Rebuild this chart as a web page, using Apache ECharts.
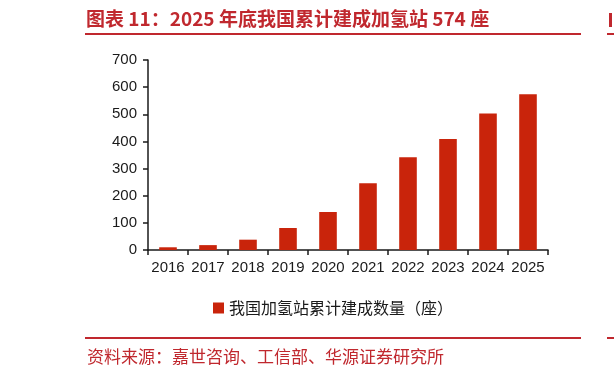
<!DOCTYPE html>
<html>
<head>
<meta charset="utf-8">
<script src="https://cdn.jsdelivr.net/npm/echarts@6/dist/echarts.min.js"></script>
<style>
  html, body { margin: 0; padding: 0; background: #fff; }
  #chart { width: 614px; height: 377px; }
</style>
</head>
<body>
<div id="chart"></div>
<script>
// 我国加氢站累计建成数量（座），2016–2025
const years = ['2016', '2017', '2018', '2019', '2020', '2021', '2022', '2023', '2024', '2025'];
const stations = [10, 18, 38, 81, 140, 246, 342, 409, 503, 574];
const yTicks = { min: 0, max: 700, interval: 100 };

const titleText = '图表 11：2025 年底我国累计建成加氢站 574 座';
const seriesName = '我国加氢站累计建成数量（座）';
const sourceText = '资料来源：嘉世咨询、工信部、华源证券研究所';

const RED = '#c0282e';
const BAR = '#c9240b';
const INK = '#1a1a1a';
const CJK = '"Noto Sans CJK SC", sans-serif';

const chart = echarts.init(document.getElementById('chart'), null, { renderer: 'canvas' });

chart.setOption({
    animation: false,
    backgroundColor: '#fff',
    textStyle: { fontFamily: 'Liberation Sans, Arial, sans-serif' },
    title: {
        text: titleText,
        left: 86, top: 9, padding: 0,
        textStyle: { color: RED, fontSize: 19, fontWeight: 'bold', fontFamily: CJK }
    },
    legend: {
        data: [seriesName],
        left: 213, top: 300, padding: 0,
        icon: 'rect', itemWidth: 11, itemHeight: 11, itemGap: 5,
        textStyle: { color: INK, fontSize: 16, fontFamily: CJK }
    },
    grid: { left: 148, right: 66, top: 60, bottom: 127, containLabel: false },
    xAxis: {
        type: 'category',
        data: years,
        boundaryGap: true,
        axisLine: { lineStyle: { color: INK, width: 1.5 } },
        axisTick: { show: true, length: 5, alignWithLabel: false, lineStyle: { color: INK, width: 1.5 } },
        axisLabel: { color: INK, fontSize: 15, margin: 10, interval: 0 }
    },
    yAxis: {
        type: 'value',
        min: yTicks.min, max: yTicks.max, interval: yTicks.interval,
        axisLine: { show: true, lineStyle: { color: INK, width: 1.5 } },
        axisTick: { show: true, length: 5, lineStyle: { color: INK, width: 1.5 } },
        axisLabel: { color: INK, fontSize: 15, margin: 11 },
        splitLine: { show: false }
    },
    series: [{
        name: seriesName,
        type: 'bar',
        data: stations,
        barWidth: '44%',
        itemStyle: { color: BAR }
    }],
    graphic: [
        // rule under the title
        { type: 'line', shape: { x1: 85, y1: 34, x2: 581, y2: 34 }, style: { stroke: RED, lineWidth: 2 } },
        // rule above the source note
        { type: 'line', shape: { x1: 85, y1: 338, x2: 581, y2: 338 }, style: { stroke: RED, lineWidth: 2 } },
        // clipped edge of the neighbouring figure
        { type: 'line', shape: { x1: 607, y1: 34, x2: 614, y2: 34 }, style: { stroke: RED, lineWidth: 2 } },
        { type: 'line', shape: { x1: 607, y1: 338, x2: 614, y2: 338 }, style: { stroke: RED, lineWidth: 2 } },
        { type: 'rect', shape: { x: 609, y: 13, width: 3, height: 14 }, style: { fill: RED } },
        {
            type: 'text', left: 87, top: 348,
            style: { text: sourceText, fill: RED, fontSize: 17, fontFamily: CJK }
        }
    ]
});
</script>
</body>
</html>
